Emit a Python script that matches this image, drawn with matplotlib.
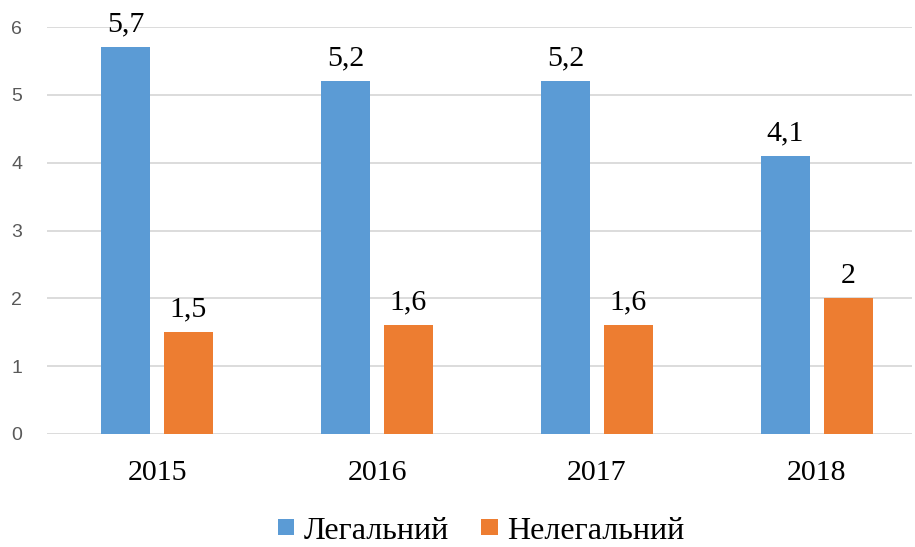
import numpy as np
import matplotlib.pyplot as plt

years = ["2015", "2016", "2017", "2018"]
legal = [5.7, 5.2, 5.2, 4.1]
illegal = [1.5, 1.6, 1.6, 2.0]
legal_labels = ["5,7", "5,2", "5,2", "4,1"]
illegal_labels = ["1,5", "1,6", "1,6", "2"]

fig = plt.figure(figsize=(9.15, 5.47), dpi=100)
ax = fig.add_axes([0.0514, 0.2066, 0.9453, 0.744])

x = np.arange(len(years))
w = 0.223
off = 0.143
b1 = ax.bar(x - off, legal, w, color="#5B9BD5", label="Легальний", zorder=3)
b2 = ax.bar(x + off, illegal, w, color="#ED7D31", label="Нелегальний", zorder=3)

serif = "Liberation Serif"
for bars, labs in [(b1, legal_labels), (b2, illegal_labels)]:
    for r, t in zip(bars, labs):
        ax.annotate(t, (r.get_x() + r.get_width() / 2, r.get_height()),
                    xytext=(0, 7), textcoords="offset points",
                    ha="center", va="bottom", fontsize=21.5, family=serif)

ax.set_xlim(-0.5, -0.5 + 865 / 220)
ax.set_ylim(0, 6)
ax.set_yticks(range(7))
ax.set_xticks(x)
ax.set_xticklabels(years, fontsize=21.5, family=serif)
ax.tick_params(axis="y", labelsize=14, labelcolor="#595959", length=0, pad=18)
ax.tick_params(axis="x", length=0, pad=19)
for lab in ax.get_yticklabels():
    lab.set_family("Liberation Sans")
ax.grid(axis="y", color="#d9d9d9", linewidth=1.3, zorder=0)
for s in ax.spines.values():
    s.set_visible(False)

fig.legend(loc="lower center", bbox_to_anchor=(0.526, -0.05), ncol=2, frameon=False,
           prop={"family": serif, "size": 23}, handlelength=0.52, handleheight=0.4,
           handletextpad=0.3, columnspacing=1.0)

fig.savefig("out.png", dpi=100)
